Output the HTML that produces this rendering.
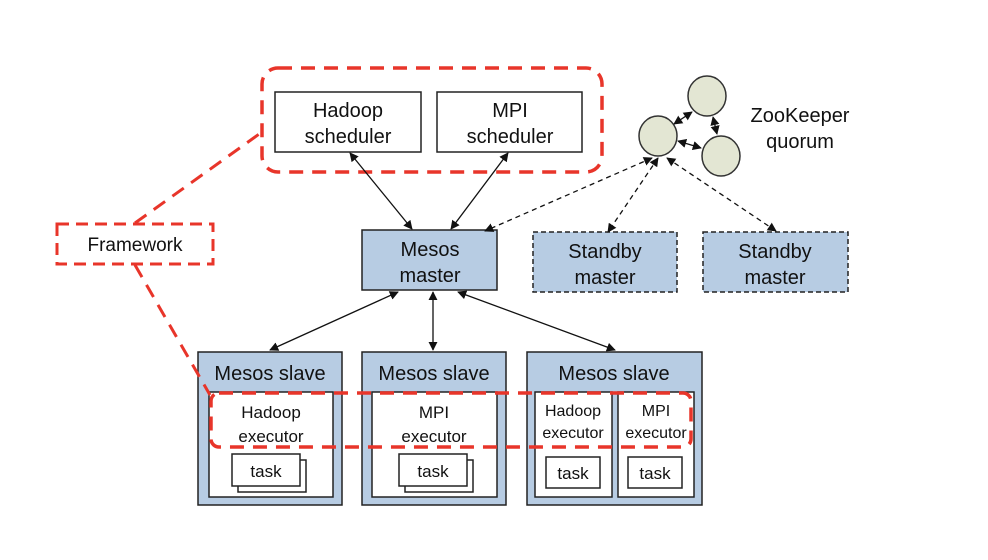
<!DOCTYPE html>
<html><head><style>body{margin:0;background:#fff}svg{display:block}text{font-family:"Liberation Sans",sans-serif;fill:#111}</style></head><body>
<svg width="988" height="560" viewBox="0 0 988 560">
<defs><marker id="a" viewBox="0 0 10 10" refX="9" refY="5" markerWidth="7" markerHeight="7" orient="auto-start-reverse"><path d="M0,0L10,5L0,10z" fill="#111"/></marker></defs>
<g fill="#fff" stroke="#222" stroke-width="1.5">
<rect x="275" y="92" width="146" height="60"/><rect x="437" y="92" width="145" height="60"/>
</g>
<g font-size="20" text-anchor="middle">
<text x="348" y="117">Hadoop</text><text x="348" y="143">scheduler</text>
<text x="510" y="117">MPI</text><text x="510" y="143">scheduler</text>
</g>
<rect x="262" y="68" width="340" height="104" rx="16" fill="none" stroke="#e8352a" stroke-width="3.5" stroke-dasharray="14,9"/>
<rect x="362" y="230" width="135" height="60" fill="#b7cce3" stroke="#222" stroke-width="1.5"/>
<rect x="533" y="232" width="144" height="60" fill="#b7cce3" stroke="#222" stroke-width="1.5" stroke-dasharray="5,3"/>
<rect x="703" y="232" width="145" height="60" fill="#b7cce3" stroke="#222" stroke-width="1.5" stroke-dasharray="5,3"/>
<g font-size="20" text-anchor="middle">
<text x="430" y="256">Mesos</text><text x="430" y="282">master</text>
<text x="605" y="258">Standby</text><text x="605" y="284">master</text>
<text x="775" y="258">Standby</text><text x="775" y="284">master</text>
</g>
<g fill="#e3e6d3" stroke="#333" stroke-width="1.5">
<ellipse cx="707" cy="96" rx="19" ry="20"/><ellipse cx="658" cy="136" rx="19" ry="20"/><ellipse cx="721" cy="156" rx="19" ry="20"/>
</g>
<text x="800" y="122" font-size="20" text-anchor="middle">ZooKeeper</text><text x="800" y="148" font-size="20" text-anchor="middle">quorum</text>
<g stroke="#111" stroke-width="1.3" fill="none" marker-start="url(#a)" marker-end="url(#a)">
<line x1="674" y1="124" x2="692" y2="112"/><line x1="713" y1="117" x2="717" y2="134"/><line x1="678" y1="141" x2="701" y2="148"/>
<line x1="350" y1="153" x2="412" y2="229"/><line x1="508" y1="153" x2="451" y2="229"/>
<line x1="398" y1="292" x2="270" y2="350"/><line x1="433" y1="292" x2="433" y2="350"/><line x1="458" y1="292" x2="615" y2="350"/>
</g>
<g stroke="#111" stroke-width="1.3" fill="none" stroke-dasharray="5,4" marker-start="url(#a)" marker-end="url(#a)">
<line x1="652" y1="158" x2="485" y2="231"/><line x1="658" y1="158" x2="608" y2="232"/><line x1="667" y1="158" x2="776" y2="231"/>
</g>
<g fill="#b7cce3" stroke="#222" stroke-width="1.5">
<rect x="198" y="352" width="144" height="153"/><rect x="362" y="352" width="144" height="153"/><rect x="527" y="352" width="175" height="153"/>
</g>
<g font-size="20" text-anchor="middle"><text x="270" y="380">Mesos slave</text><text x="434" y="380">Mesos slave</text><text x="614" y="380">Mesos slave</text></g>
<g fill="#fff" stroke="#222" stroke-width="1.5">
<rect x="209" y="392" width="124" height="105"/><rect x="372" y="392" width="125" height="105"/>
<rect x="535" y="392" width="77" height="105"/><rect x="618" y="392" width="76" height="105"/>
<rect x="238" y="460" width="68" height="32"/><rect x="232" y="454" width="68" height="32"/>
<rect x="405" y="460" width="68" height="32"/><rect x="399" y="454" width="68" height="32"/>
<rect x="546" y="457" width="54" height="31"/><rect x="628" y="457" width="54" height="31"/>
</g>
<g font-size="17" text-anchor="middle">
<text x="271" y="418">Hadoop</text><text x="271" y="442">executor</text>
<text x="434" y="418">MPI</text><text x="434" y="442">executor</text>
<text x="573" y="416" font-size="16">Hadoop</text><text x="573" y="438" font-size="16">executor</text>
<text x="656" y="416" font-size="16">MPI</text><text x="656" y="438" font-size="16">executor</text>
<text x="266" y="477">task</text><text x="433" y="477">task</text><text x="573" y="479">task</text><text x="655" y="479">task</text>
</g>
<rect x="211" y="393" width="480" height="54" rx="8" fill="none" stroke="#e8352a" stroke-width="3.5" stroke-dasharray="14,9"/>
<rect x="57" y="224" width="156" height="40" fill="#fff" stroke="#e8352a" stroke-width="3" stroke-dasharray="12,7"/>
<text x="135" y="251" font-size="19" text-anchor="middle">Framework</text>
<g stroke="#e8352a" stroke-width="3" stroke-dasharray="14,9" fill="none">
<line x1="135" y1="223" x2="262" y2="132"/><line x1="135" y1="265" x2="210" y2="395"/>
</g>
</svg>
</body></html>
